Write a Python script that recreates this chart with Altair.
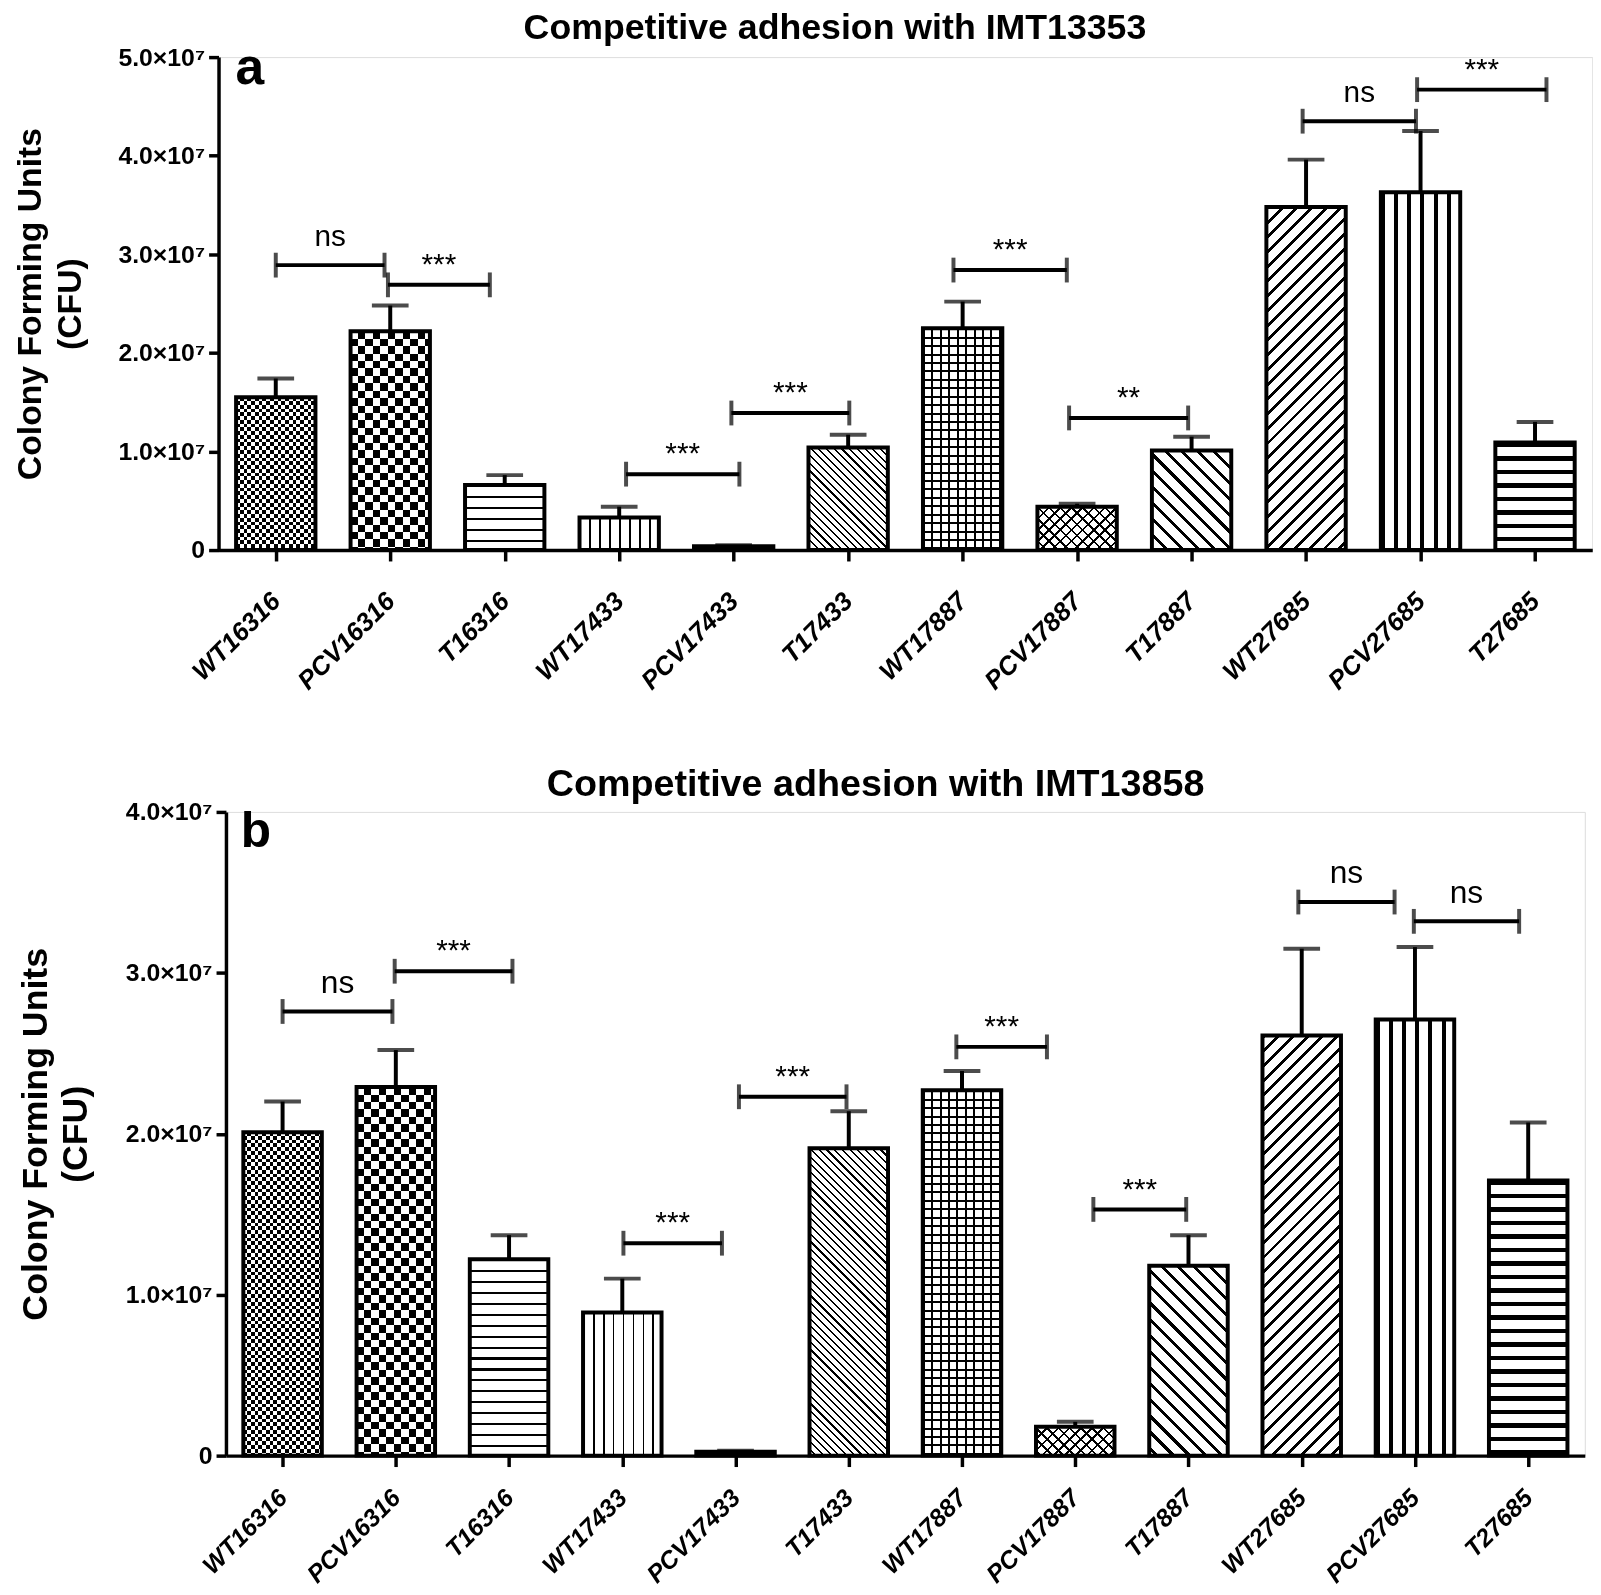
import math
import altair as alt
import pandas as pd

categories = ["WT16316", "PCV16316", "T16316", "WT17433", "PCV17433", "T17433",
              "WT17887", "PCV17887", "T17887", "WT27685", "PCV27685", "T27685"]

# Panel a (IMT13353): bar means and top of error bars
mean_a = [1.55e7, 2.22e7, 0.66e7, 0.33e7, 0.04e7, 1.04e7, 2.25e7, 0.44e7, 1.01e7, 3.48e7, 3.63e7, 1.09e7]
upper_a = [1.74e7, 2.48e7, 0.76e7, 0.44e7, 0.05e7, 1.17e7, 2.52e7, 0.47e7, 1.15e7, 3.96e7, 4.25e7, 1.30e7]
# Panel b (IMT13858)
mean_b = [2.01e7, 2.29e7, 1.22e7, 0.89e7, 0.025e7, 1.91e7, 2.27e7, 0.18e7, 1.18e7, 2.61e7, 2.71e7, 1.71e7]
upper_b = [2.20e7, 2.52e7, 1.37e7, 1.10e7, 0.03e7, 2.14e7, 2.39e7, 0.21e7, 1.37e7, 3.15e7, 3.16e7, 2.07e7]

# significance brackets (category positions, height, label)
br_a_from = [0.0, 0.98, 3.06, 3.98, 5.92, 6.93, 8.97, 9.97]
br_a_to = [0.95, 1.87, 4.05, 5.01, 6.91, 7.97, 9.96, 11.1]
br_a_y = [2.89e7, 2.69e7, 0.77e7, 1.39e7, 2.84e7, 1.34e7, 4.35e7, 4.67e7]
br_a_lab = ["ns", "***", "***", "***", "***", "**", "ns", "***"]

br_b_from = [0.0, 0.99, 3.01, 4.03, 5.95, 7.16, 8.97, 9.99]
br_b_to = [0.97, 2.03, 3.88, 4.98, 6.75, 7.98, 9.82, 10.92]
br_b_y = [2.76e7, 3.01e7, 1.32e7, 2.23e7, 2.54e7, 1.53e7, 3.44e7, 3.32e7]
br_b_lab = ["ns", "***", "***", "***", "***", "***", "ns", "ns"]

y_ticks_a = [0, 1e7, 2e7, 3e7, 4e7, 5e7]
y_ticks_b = [0, 1e7, 2e7, 3e7, 4e7]

title_a = "Competitive adhesion with IMT13353"
title_b = "Competitive adhesion with IMT13858"

FONT = "Liberation Sans"
BK = "black"
WH = "white"

# hatch patterns: (direction, period px, line px, line colour, background colour, blend)
PATTERNS = [
    [("v", 7.6, 3.8, BK, WH, None), ("h", 7.6, 3.8, WH, BK, "difference")],
    [("v", 15.0, 7.5, BK, WH, None), ("h", 15.0, 7.5, WH, BK, "difference")],
    [("h", 11.0, 2.2, BK, WH, None)],
    [("v", 10.0, 1.7, BK, WH, None)],
    [("h", 4.0, 2.0, BK, WH, None)],
    [("\\", 5.5, 1.5, BK, WH, None)],
    [("h", 8.5, 2.0, BK, WH, None), ("v", 8.5, 2.0, BK, WH, "multiply")],
    [("/", 8.0, 1.8, BK, WH, None), ("\\", 8.0, 1.8, BK, WH, "multiply")],
    [("\\", 11.5, 3.0, BK, WH, None)],
    [("/", 10.5, 2.8, BK, WH, None)],
    [("v", 13.3, 4.0, BK, WH, None)],
    [("h", 13.6, 4.5, BK, WH, None)],
]

HALF = 0.3466  # half bar width in category units


def gradient(kind, period, line, c_line, c_bg, w, h):
    if kind == "h":
        x1, y1, x2, y2, L = 0, 0, 0, 1, h
    elif kind == "v":
        x1, y1, x2, y2, L = 0, 0, 1, 0, w
    else:
        r = h / w
        s = (1 + r) / (1 + r * r)
        L = (w + h) / math.sqrt(2)
        if kind == "/":
            x1, y1, x2, y2 = 0, 0, s, s * r
        else:
            x1, y1, x2, y2 = 1, 0, 1 - s, s * r
    pt = period / L
    lt = line / L
    stops = []
    t = 0.0
    while t < 1.0 - 1e-9:
        a = t
        b = min(t + lt, 1.0)
        c = min(t + pt, 1.0)
        stops.append(alt.GradientStop(offset=round(a, 6), color=c_line))
        stops.append(alt.GradientStop(offset=round(b, 6), color=c_line))
        if b < 1.0:
            stops.append(alt.GradientStop(offset=round(b, 6), color=c_bg))
            stops.append(alt.GradientStop(offset=round(c, 6), color=c_bg))
        t += pt
    return alt.LinearGradient(gradient="linear", stops=stops,
                              x1=round(x1, 6), y1=round(y1, 6), x2=round(x2, 6), y2=round(y2, 6))


def panel(means, uppers, bfrom, bto, by, blab, ymax, yticks, W, H,
          title, title_size, title_dx, title_y, letter, letter_size, letter_x, letter_y,
          ns_size, star_size, ytitle_size, lab_pad, lab_size):
    df = pd.DataFrame({"cat": categories, "idx": list(range(12)),
                       "mean": means, "upper": uppers})
    bdf = pd.DataFrame({"x_from": bfrom, "x_to": bto, "y": by, "lab": blab})
    bdf["mid"] = (bdf["x_from"] + bdf["x_to"]) / 2

    label_expr = "[" + ",".join("'" + c + "'" for c in categories) + "][datum.value]"
    x_axis = alt.Axis(values=list(range(12)), labelExpr=label_expr, labelAngle=-45,
                      labelAlign="right", labelBaseline="middle",
                      labelFont=FONT, labelFontSize=lab_size, labelFontWeight="bold",
                      labelFontStyle="italic", labelColor=BK, labelPadding=lab_pad,
                      labelOverlap=False, labelBound=False, labelFlush=False,
                      tickColor=BK, tickWidth=3.5, tickSize=11,
                      domainColor=BK, domainWidth=3.5, grid=False, title=None)
    y_axis = alt.Axis(values=yticks,
                      labelExpr="datum.value == 0 ? '0' : format(datum.value / 1e7, '.1f') + '\u00d710\u2077'",
                      labelFont=FONT, labelFontSize=25, labelFontWeight="bold", labelColor=BK,
                      labelPadding=4, labelFlush=False, labelOverlap=False,
                      tickColor=BK, tickWidth=3.5, tickSize=10,
                      domainColor=BK, domainWidth=3.5, grid=False,
                      title=["Colony Forming Units", "(CFU)"], titleFont=FONT,
                      titleFontSize=ytitle_size, titleFontWeight="bold", titleColor=BK,
                      titleLineHeight=40, titlePadding=31)
    xs = alt.Scale(domain=[-0.5, 11.5], nice=False, zero=False)
    ys = alt.Scale(domain=[0, ymax], nice=False, zero=True)

    px_per = H / ymax
    bw = 2 * HALF * W / 12.0

    def X(f):
        return alt.X(f, scale=xs, axis=x_axis)

    def Y(f):
        return alt.Y(f, scale=ys, axis=y_axis)

    layers = []
    for i, pats in enumerate(PATTERNS):
        h = max(means[i] * px_per, 1.0)
        for (kind, period, line, cl, cb, blend) in pats:
            grad = gradient(kind, period, line, cl, cb, bw, h)
            kw = dict(color=grad, strokeWidth=0)
            if blend:
                kw["blend"] = blend
            layers.append(
                alt.Chart(df).transform_filter(alt.datum.idx == i)
                .transform_calculate(xa=f"datum.idx - {HALF}", xb=f"datum.idx + {HALF}", zero="0")
                .mark_bar(**kw)
                .encode(x=X("xa:Q"), x2="xb:Q", y=Y("mean:Q"), y2="zero:Q")
            )

    # bar outlines
    layers.append(
        alt.Chart(df)
        .transform_calculate(xa=f"datum.idx - {HALF}", xb=f"datum.idx + {HALF}", zero="0")
        .mark_bar(color=WH, fillOpacity=0, stroke=BK, strokeWidth=4)
        .encode(x=X("xa:Q"), x2="xb:Q", y=Y("mean:Q"), y2="zero:Q")
    )
    # error bars
    layers.append(
        alt.Chart(df).mark_rule(color=BK, strokeWidth=4)
        .encode(x=X("idx:Q"), y=Y("mean:Q"), y2="upper:Q")
    )
    layers.append(
        alt.Chart(df).mark_tick(color=BK, orient="horizontal", size=37, thickness=4)
        .encode(x=X("idx:Q"), y=Y("upper:Q"))
    )
    # brackets
    layers.append(
        alt.Chart(bdf).mark_rule(color=BK, strokeWidth=4)
        .encode(x=X("x_from:Q"), x2="x_to:Q", y=Y("y:Q"))
    )
    for fld in ["x_from", "x_to"]:
        layers.append(
            alt.Chart(bdf).mark_tick(color=BK, orient="vertical", size=25, thickness=4)
            .encode(x=X(f"{fld}:Q"), y=Y("y:Q"))
        )
    layers.append(
        alt.Chart(bdf).transform_filter(alt.datum.lab == "ns")
        .mark_text(font=FONT, fontSize=ns_size, color=BK, align="center",
                   baseline="alphabetic", dy=-19)
        .encode(x=X("mid:Q"), y=Y("y:Q"), text="lab:N")
    )
    layers.append(
        alt.Chart(bdf).transform_filter(alt.datum.lab != "ns")
        .mark_text(font=FONT, fontSize=star_size, color=BK, align="center",
                   baseline="alphabetic", dy=-11)
        .encode(x=X("mid:Q"), y=Y("y:Q"), text="lab:N")
    )
    # panel letter
    layers.append(
        alt.Chart(pd.DataFrame({"t": [letter]}))
        .mark_text(font=FONT, fontSize=letter_size, fontWeight="bold", color=BK,
                   align="left", baseline="alphabetic")
        .encode(text="t:N", x=alt.value(letter_x), y=alt.value(letter_y))
    )
    # panel title
    layers.append(
        alt.Chart(pd.DataFrame({"t": [title]}))
        .mark_text(font=FONT, fontSize=title_size, fontWeight="bold", color=BK,
                   align="center", baseline="top")
        .encode(text="t:N", x=alt.value(W / 2 + title_dx), y=alt.value(title_y))
    )

    return alt.layer(*layers).properties(width=W, height=H)


pa = panel(mean_a, upper_a, br_a_from, br_a_to, br_a_y, br_a_lab, 5e7, y_ticks_a,
           1385, 497, title_a, 36, -71, -46,
           "a", 52, 17, 27, 30, 30, 34, 36, 26)
pb = panel(mean_b, upper_b, br_b_from, br_b_to, br_b_y, br_b_lab, 4e7, y_ticks_b,
           1370, 649, title_b, 38, -30, -46,
           "b", 50, 15, 35, 32, 30, 36, 27, 25)

chart = alt.vconcat(pa, pb, spacing=71, center=True).properties(
    padding={"left": 5, "top": -5, "right": 0, "bottom": 0},
    background="white",
).configure_view(stroke=None).configure(font=FONT)

chart.save("out.html", embed_options={"renderer": "svg", "actions": False})
